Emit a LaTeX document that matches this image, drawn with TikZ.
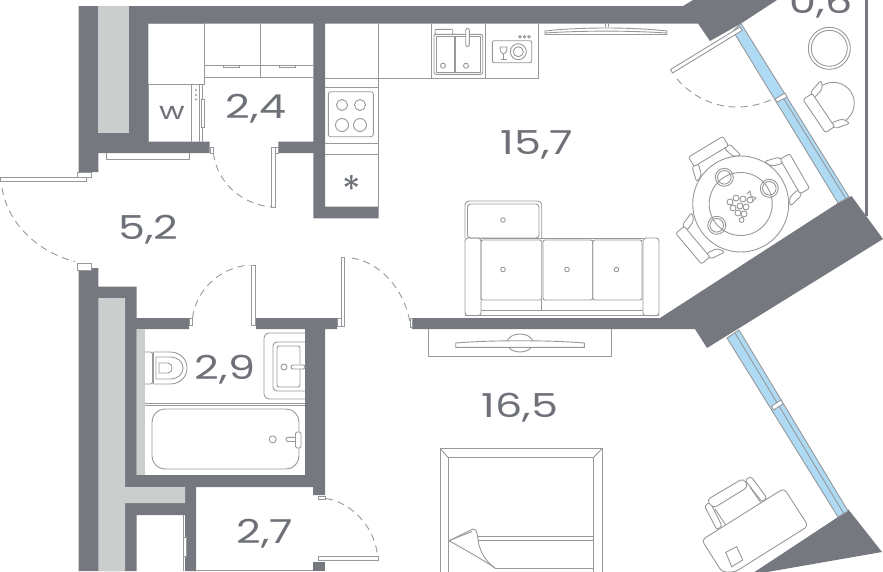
\documentclass[tikz,border=0pt]{standalone}
\usepackage{fontspec}
\setmainfont{Poppins}
\newfontfamily\areafont{Poppins}[FakeStretch=1.3]
\definecolor{wallgray}{HTML}{75787E}
\definecolor{shaftgray}{HTML}{CBCECC}
\definecolor{linegray}{HTML}{96989C}
\definecolor{glassblue}{HTML}{AFDAF3}
\definecolor{labelgray}{HTML}{6E7177}
\tikzset{
  wall/.style={fill=wallgray},
  shaft/.style={fill=shaftgray},
  furn/.style={draw=linegray, line width=0.9pt},
  furnw/.style={furn, fill=white},
  swing/.style={draw=linegray, line width=0.9pt, dash pattern=on 7pt off 5pt},
  glass/.style={draw=linegray, line width=0.9pt, fill=glassblue},
  area/.style={text=labelgray, anchor=base, inner sep=0pt, font=\areafont\fontsize{33}{33}\selectfont}
}
\newcommand{\chairback}[4]{%
  \begin{scope}[shift={(#1,#2)}, rotate=#3]
    \draw[furnw, rounded corners=3pt] (#4-15,-26) -- (#4+1,-22) -- (#4+1,-15) -- (#4-11,-18) -- cycle;
    \draw[furnw, rounded corners=3pt] (#4-15,26) -- (#4+1,22) -- (#4+1,15) -- (#4-11,18) -- cycle;
    \draw[furnw, rounded corners=2pt] (#4,-20) rectangle (#4+11,20);
  \end{scope}}
\begin{document}
\begin{tikzpicture}[x=1pt, y=-1pt]
  \useasboundingbox (0,0) rectangle (883,571);
  \clip (0,0) rectangle (883,571);
  % walls
  \fill[wall] (78.7,6) -- (683,6) -- (693,0) -- (777,0) -- (741,23.5) -- (710,41) -- (698,23.5) -- (325,23.5) -- (325,206.7) -- (378.5,206.7) -- (378.5,218.3) -- (313.3,218.3) -- (313.3,153) -- (278.3,153) -- (278.3,141.7) -- (313.3,141.7) -- (313.3,23.5) -- (148.3,23.5) -- (148.3,141.7) -- (209.5,141.7) -- (209.5,153) -- (98.3,153) -- (98.3,172) -- (78.7,172) -- cycle;
  \fill[wall] (412,318) -- (660,318) -- (838,203) -- (851.5,196) -- (883,239) -- (707,348) -- (695,329) -- (412,329) -- cycle;
  \fill[wall] (838,517) -- (848,509) -- (882,552) -- (750,575) -- cycle;
  \fill[wall] (78.7,268) -- (98.3,268) -- (98.3,286.7) -- (136.7,286.7) -- (136.7,318) -- (189,318) -- (189,329) -- (136.7,329) -- (136.7,475) -- (305,475) -- (305,329) -- (256,329) -- (256,318) -- (337,318) -- (337,329) -- (325,329) -- (325,495) -- (313,495) -- (313,487) -- (196,487) -- (196,571) -- (185,571) -- (185,515) -- (136.7,515) -- (136.7,571) -- (78.7,571) -- cycle;
  \fill[wall] (313,562) rectangle (325,571);
  \fill[wall] (865,0) rectangle (868,216);
  % shafts
  \fill[shaft] (98.3,6) rectangle (129.3,133);
  \fill[shaft] (98.3,298) -- (125,298) -- (125,487) -- (185,487) -- (185,503) -- (125,503) -- (125,571) -- (98.3,571) -- cycle;
  \fill[shaft] (136.7,329) rectangle (145,475);
  % windows
  \draw[glass] (733,31) -- (741,23.5) -- (849,197) -- (838,203) -- cycle;
  \draw[furn] (782,96) -- (846,199);
  \draw[furnw] (775,99) -- (785,93) -- (787,97) -- (777,102) -- cycle;
  \draw[glass] (727,338) -- (739,330) -- (848,511) -- (838,517) -- cycle;
  \draw[furn] (735,333) -- (844,514);
  \draw[furnw] (771.5,406) -- (781,400) -- (783,404) -- (773.5,410) -- cycle;
  % doors
  \draw[furnw] (210,147) rectangle (213,153);
  \draw[furnw] (275.5,147) rectangle (278.3,153);
  \draw[furnw] (271.7,147) rectangle (275.5,207);
  \draw[swing] (213.5,153) .. controls (217,185) and (245,205) .. (271.7,207);
  \draw[furnw] (77,172.7) rectangle (91,177.3);
  \draw[furnw] (0.5,177.3) rectangle (86,181.3);
  \draw[furnw] (77,263.5) rectangle (91.3,270);
  \draw[swing] (2,188) .. controls (8,225) and (40,253) .. (75,261.5);
  \draw[furnw] (189,318.5) rectangle (192,325.7);
  \draw[furnw] (251,265) rectangle (255,325.7);
  \draw[swing] (192.5,318) .. controls (196,290) and (220,267) .. (250,265);
  \draw[furnw] (337,318.5) rectangle (341,326);
  \draw[furnw] (341,257) rectangle (344.7,326);
  \draw[swing] (351.7,258) .. controls (380,262) and (405,290) .. (410,323);
  \draw[furnw] (410,318) rectangle (412,327);
  \draw[furnw] (318,496) rectangle (325,499);
  \draw[furnw] (318,556.7) rectangle (378.5,560);
  \draw[swing] (326,498.5) .. controls (350,502) and (373,525) .. (377,552);
  \draw[furnw] (670.5,69.5) -- (740,27) -- (742,30.5) -- (672.5,73) -- cycle;
  \draw[swing] (677,79) .. controls (695,100) and (730,118) .. (773,99);
  % kitchen
  \draw[furn] (148.3,23.5) -- (204,23.5) -- (204,84.5) -- (148.3,84.5);
  \draw[furn] (148.3,84.5) -- (148.3,141.7);
  \draw[furn] (204,23.5) -- (204,77.5) -- (313.3,77.5);
  \draw[furn] (204,65) -- (313.3,65);
  \draw[furn] (260,23.5) -- (260,77.5);
  \draw[furn] (223,65) -- (223,67.5) -- (239,67.5) -- (239,65);
  \draw[furn] (279,65) -- (279,67.5) -- (295,67.5) -- (295,65);
  \draw[furn] (191.5,84.5) -- (191.5,141.7);
  \draw[furn] (199,84.5) -- (199,141.7);
  \draw[furn] (202,84.5) -- (202,141.7);
  \draw[furnw] (201.5,99) rectangle (204.5,127);
  \fill[linegray] (196,90) circle (1.2);
  \fill[linegray] (196,95) circle (1.2);
  \fill[linegray] (196,99.5) circle (1.2);
  \node[text=labelgray, anchor=base, inner sep=0pt, font=\areafont\fontsize{24}{24}\selectfont] (washer) at (172,119.5) {w};
  \draw[furn] (325,78) -- (538.3,78) -- (538.3,23.5);
  \draw[furn] (378.5,23.5) -- (378.5,206.7);
  \draw[furn] (431,23.5) -- (431,78);
  \draw[furn] (485,23.5) -- (485,78);
  \draw[furn] (325,87) -- (378.5,87);
  \draw[furn] (325,143) -- (378.5,143);
  \draw[furn] (325,154) -- (378.5,154);
  \draw[furn, rounded corners=2.5pt] (328.3,91.7) rectangle (373.3,136.7);
  \draw[furn] (342,105) circle (5.5);
  \draw[furn] (360,105) circle (5.5);
  \draw[furn] (342,125) circle (6.5);
  \draw[furn] (360,125) circle (6.5);
  \node[text=labelgray, anchor=base, inner sep=0pt, font=\fontsize{38}{38}\selectfont] (fridge) at (352,203) {*};
  % sink
  \draw[furn, rounded corners=2pt] (434,34.3) rectangle (482.7,74.3);
  \draw[furn] (436.7,36.7) rectangle (454,72);
  \draw[furn] (455.7,36.7) rectangle (480,72);
  \draw[furn] (443,65.7) circle (2.5);
  \draw[furn] (466,65.7) circle (2.5);
  \draw[furnw, rounded corners=1pt] (435,29.3) rectangle (452.7,34.3);
  \draw[furnw, rounded corners=1.5pt] (465.7,28.3) rectangle (469.3,46.7);
  \draw[furn, rounded corners=2pt] (492.3,40.7) rectangle (531.7,62.7);
  \draw[furn] (518.3,51.7) circle (8);
  \draw[furn] (518.3,51.7) circle (5);
  \draw[furn] (500,47) -- (507,47) .. controls (507,52) and (505,54) .. (503.5,54) .. controls (502,54) and (500,52) .. (500,47);
  \draw[furn] (503.5,54) -- (503.5,59.5);
  \draw[furn] (500.5,59.5) -- (506.5,59.5);
  \draw[furn] (520,36.7) circle (1.2);
  \draw[furn] (524.5,36.7) circle (1.2);
  \draw[furn] (529,36.7) circle (1.2);
  \draw[furn] (605,23.5) -- (605,27);
  \draw[furn] (608,23.5) -- (608,27);
  \draw[furn] (545,31) .. controls (580,27) and (632,27) .. (667,31) -- (667,34.5) -- (545,34.5) -- cycle;
  \draw[furn] (545,33) .. controls (585,30.5) and (627,30.5) .. (667,33);
  % bath
  \draw[furn] (145,403) -- (305,403);
  \draw[furn] (145,405) -- (305,405);
  \draw[furn, rounded corners=13pt] (152,409) rectangle (299,469);
  \draw[furn] (272.7,439.3) circle (3.5);
  \draw[furnw, rounded corners=2pt] (286,437.3) rectangle (298,441.5);
  \draw[furnw, rounded corners=1.5pt] (295.5,432) rectangle (301,448);
  \draw[furn, rounded corners=2pt] (145,352) -- (152.5,352) -- (152.5,384) -- (145,384);
  \draw[furn] (153.5,352) -- (170,352) .. controls (181,352) and (187,360) .. (187,368) .. controls (187,376) and (181,384) .. (170,384) -- (153.5,384) -- cycle;
  \draw[furn] (156,357) -- (170,357) .. controls (178,357) and (183,362) .. (183,368) .. controls (183,374) and (178,379) .. (170,379) -- (156,379) -- cycle;
  \draw[furn] (159,363) -- (168,363) .. controls (171,363) and (172,366) .. (172,368) .. controls (172,370) and (171,373) .. (168,373) -- (159,373) -- cycle;
  \draw[furn, rounded corners=5pt] (305,333) -- (264,333) -- (264,399) -- (305,399);
  \draw[furn, rounded corners=4pt] (305,342) -- (273,342) -- (273,391) -- (305,391);
  \draw[furn, rounded corners=2pt] (300,346) -- (277,346) -- (277,387) -- (300,387) -- cycle;
  \draw[furn] (284,367) circle (3);
  \draw[furnw, rounded corners=2pt] (291,365) -- (305,365) -- (305,369) -- (291,369) -- cycle;
  % hall and wardrobe
  \draw[furn] (106.7,153) -- (106.7,159.3) -- (189.3,159.3) -- (189.3,153);
  \draw[furn] (183.3,515) -- (183.3,571);
  \draw[furnw] (183.3,537) rectangle (186,556);
  \draw[furn] (196,570) -- (313,570);
  % sofa
  \draw[furn, rounded corners=4pt] (465,238) -- (465,201) -- (541.7,201) -- (541.7,238);
  \draw[furn, rounded corners=3pt] (467.5,238) -- (467.5,204) -- (539,204) -- (539,238) -- cycle;
  \draw[furn, rounded corners=3pt] (465,238) rectangle (481,315.7);
  \draw[furn, rounded corners=3pt] (643,238) rectangle (659,315.7);
  \draw[furn, rounded corners=2pt] (481,240) rectangle (541.7,300);
  \draw[furn, rounded corners=2pt] (543,240) rectangle (592.7,300);
  \draw[furn, rounded corners=2pt] (592.7,240) rectangle (642,300);
  \draw[furn] (481,238) -- (643,238);
  \draw[furn] (481,310.3) -- (643,310.3);
  \draw[furn] (465,315.7) -- (659,315.7);
  \draw[furn] (541.7,300) -- (541.7,310.3);
  \draw[furn] (503,220) circle (2.3);
  \draw[furn] (503,269.5) circle (2.3);
  \draw[furn] (567,269.5) circle (2.3);
  \draw[furn] (616.5,269.5) circle (2.3);
  % dining table
  \chairback{740.7}{205}{30}{57}
  \chairback{740.7}{205}{121}{57}
  \chairback{740.7}{205}{220}{57}
  \draw[furnw] (740.7,204) circle (48);
  \draw[furn] (740.7,204) circle (31.5);
  \draw[furn] (724.3,177.3) circle (9);
  \draw[furn] (724.3,177.3) circle (6.8);
  \draw[furn] (769.3,188.3) circle (9);
  \draw[furn] (769.3,188.3) circle (6.8);
  \draw[furn] (716.7,225.3) circle (9);
  \draw[furn] (716.7,225.3) circle (6.8);
  \draw[furn] (730,202) circle (3);
  \draw[furn] (736,198) circle (3);
  \draw[furn] (743,199) circle (3);
  \draw[furn] (750,200) circle (3);
  \draw[furn] (733,208) circle (3);
  \draw[furn] (740,206) circle (3);
  \draw[furn] (746,207) circle (3);
  \draw[furn] (738,213) circle (3);
  \draw[furn] (744,214) circle (3);
  \draw[furn] (741.5,220) circle (2.5);
  \draw[furn] (747,194) -- (750,191) -- (751,196) -- (756,198) -- (752,202);
  % balcony
  \draw[furn] (829.3,48.3) circle (21);
  \draw[furn] (829.3,48.3) circle (18);
  \draw[furn] (833.3,103.3) circle (21);
  \chairback{833.3}{103.3}{214}{12}
  % bedroom
  \draw[furn] (428.3,329) -- (428.3,356) -- (611,356) -- (611,329);
  \draw[furn] (506.7,343) .. controls (508,331) and (532,331) .. (533.3,343) .. controls (532,355) and (508,355) .. (506.7,343);
  \draw[furnw] (455.7,343) .. controls (490,340) and (550,340) .. (584.3,343) -- (584.3,347.3) -- (455.7,347.3) -- cycle;
  \draw[furn] (440,575) -- (440,448.3) -- (602.3,448.3) -- (602.3,575);
  \draw[furn] (448.3,575) -- (448.3,457.7) -- (593.3,457.7) -- (593.3,575);
  \draw[furn] (440,448.3) -- (448.3,457.7);
  \draw[furn] (602.3,448.3) -- (593.3,457.7);
  \draw[furn] (478,536.7) -- (593.3,536.7);
  \draw[furn] (478,540) -- (593.3,540);
  \draw[furn] (495,568) -- (593.3,568);
  \draw[furn] (449,540.7) -- (473,529) .. controls (478,529) and (477,536) .. (479,545) .. controls (482,556) and (488,563) .. (495,568);
  \draw[furn] (449,540.7) -- (472,531.5);
  \draw[furn] (449,540.7) .. controls (462,548) and (480,558) .. (495,568);
  % desk
  \draw[furnw, rounded corners=2.5pt] (704.5,506) -- (710,502) -- (722,526) -- (717,530) -- cycle;
  \draw[furnw, rounded corners=2.5pt] (745,480) -- (751,476.5) -- (767,498) -- (762,502) -- cycle;
  \draw[furn] (715,509) -- (727,527);
  \draw[furn] (750,487) -- (761,503);
  \draw[furnw, rounded corners=4pt] (706.7,500) -- (743.3,478.3) -- (748.3,486.7) -- (713.3,508.3) -- cycle;
  \draw[furnw, rounded corners=4pt] (701.7,540) -- (784,488.3) -- (808.3,526) -- (735,572) -- (722,572) -- cycle;
  \draw[furn] (725.7,552.3) -- (736.7,546.7) -- (742.7,560) -- (731.7,566.7) -- cycle;
  % areas
  \node[area] (kitchenlabel) at (256,118) {2,4};
  \node[area] (livinglabel) at (537,154) {15,7};
  \node[area] (halllabel) at (148.5,239) {5,2};
  \node[area] (bathlabel) at (225,379) {2,9};
  \node[area] (bedlabel) at (520,417) {16,5};
  \node[area] (closetlabel) at (265,543) {2,7};
  \node[area] (balconylabel) at (821,13.5) {0,6};
\end{tikzpicture}
\end{document}
